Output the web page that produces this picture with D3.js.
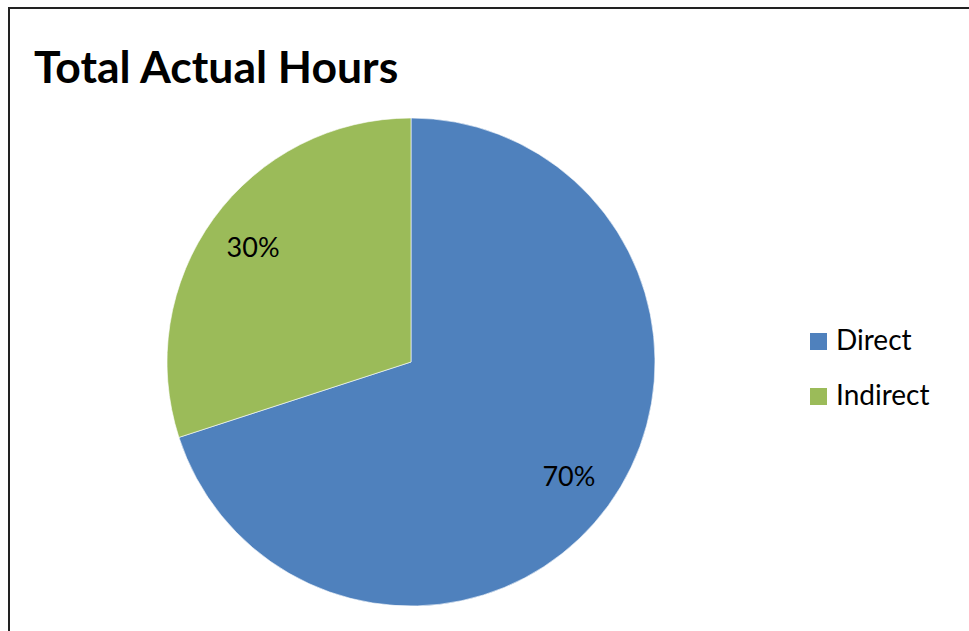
<!DOCTYPE html>
<html><head><meta charset="utf-8">
<script src="https://cdn.jsdelivr.net/npm/d3@7"></script>
<style>body{margin:0;background:#fff}svg{display:block}</style>
</head><body>
<svg id="c" width="969" height="631"></svg>
<script>
const categories = ["Direct", "Indirect"];
const values = [70, 30];
const labels = ["70%", "30%"];
const colors = ["#4F81BD", "#9BBB59"];

const svg = d3.select("#c");
svg.append("rect").attr("x", 0).attr("y", 0).attr("width", 969).attr("height", 631).attr("fill", "#fff");
// border (left and top visible)
svg.append("path").attr("d", "M9,631 V8 H969").attr("fill", "none").attr("stroke", "#222").attr("stroke-width", 2);

const font = "Lato, 'Open Sans', sans-serif";
svg.append("text").attr("x", 34).attr("y", 83).text("Total Actual Hours")
  .attr("font-family", font).attr("font-weight", "bold").attr("font-size", 44.5).attr("fill", "#000");

const cx = 411, cy = 362, r = 244;
const pie = d3.pie().sort(null).value(d => d)(values);
const arc = d3.arc().innerRadius(0).outerRadius(r);
const g = svg.append("g").attr("transform", `translate(${cx},${cy})`);
g.selectAll("path").data(pie).join("path").attr("d", arc)
  .attr("fill", (d, i) => colors[i]).attr("stroke", "#fff").attr("stroke-width", 0.6);

const labelArc = d3.arc().innerRadius(r * 0.8).outerRadius(r * 0.8);
g.selectAll("text").data(pie).join("text")
  .attr("transform", d => `translate(${labelArc.centroid(d)})`)
  .attr("text-anchor", "middle").attr("dy", "0.35em")
  .attr("font-family", font).attr("font-size", 27).attr("fill", "#000")
  .text((d, i) => labels[i]);

const leg = svg.append("g");
categories.forEach((c, i) => {
  const y = 333 + i * 55;
  leg.append("rect").attr("x", 810).attr("y", y).attr("width", 17).attr("height", 17).attr("fill", colors[i]);
  leg.append("text").attr("x", 836).attr("y", y + 17).text(c)
    .attr("font-family", font).attr("font-size", 28).attr("fill", "#000");
});
</script>
</body></html>
